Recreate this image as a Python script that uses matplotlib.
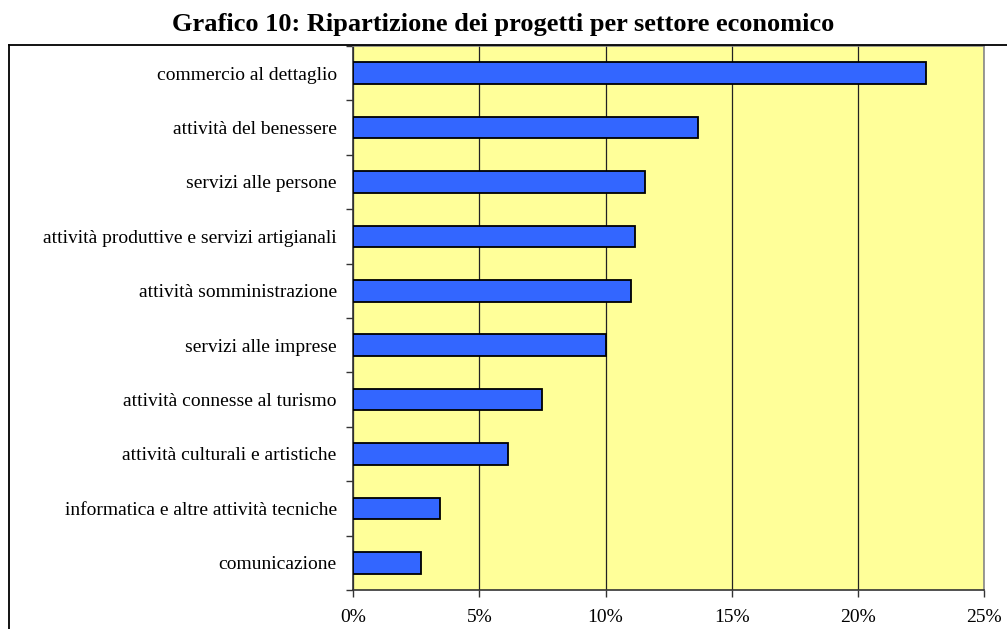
import matplotlib
matplotlib.use("Agg")
import matplotlib.pyplot as plt
from matplotlib.lines import Line2D
from matplotlib.ticker import MultipleLocator, FuncFormatter
import numpy as np

# dati (percentuali)
settori = [
    "commercio al dettaglio",
    "attività del benessere",
    "servizi alle persone",
    "attività produttive e servizi artigianali",
    "attività somministrazione",
    "servizi alle imprese",
    "attività connesse al turismo",
    "attività culturali e artistiche",
    "informatica e altre attività tecniche",
    "comunicazione",
]
quote = [22.7, 13.65, 11.57, 11.16, 11.02, 10.0, 7.5, 6.15, 3.45, 2.7]

plt.rcParams["font.family"] = ["Liberation Serif", "DejaVu Serif"]

fig = plt.figure(figsize=(10.07, 6.29), dpi=100)
ax = fig.add_axes([0.3509, 0.0620, 0.6260, 0.8649])

n = len(settori)
pos = np.arange(n)[::-1]
ax.set_facecolor("#FFFF99")
ax.barh(pos, quote, height=0.4, color="#3366FF", edgecolor="black", linewidth=1.3, zorder=3)

ax.set_xlim(0, 25)
ax.set_ylim(-0.5, n - 0.5)
ax.xaxis.set_major_locator(MultipleLocator(5))
ax.xaxis.set_major_formatter(FuncFormatter(lambda v, p: f"{v:.0f}%"))
ax.grid(axis="x", color="#222222", linewidth=0.9, zorder=1)

# etichette categorie al centro, tick ai confini
ax.set_yticks(pos)
ax.set_yticklabels(settori, fontsize=14)
ax.tick_params(axis="y", which="major", length=0, pad=12)
ax.set_yticks(np.arange(n + 1) - 0.5, minor=True)
ax.tick_params(axis="y", which="minor", length=5, width=1, color="#333333")
ax.tick_params(axis="x", length=5, width=1, color="#333333", labelsize=14, pad=9)

for s in ["left", "bottom"]:
    ax.spines[s].set_color("#333333")
    ax.spines[s].set_linewidth(1.2)
for s in ["top", "right"]:
    ax.spines[s].set_color("#888888")
    ax.spines[s].set_linewidth(1.2)

fig.suptitle("Grafico 10: Ripartizione dei progetti per settore economico",
             x=0.5, y=0.979, fontsize=19, fontweight="bold")

# cornice esterna del grafico
fig.add_artist(Line2D([9 / 1007, 1], [1 - 45 / 629, 1 - 45 / 629], color="black", linewidth=1.3))
fig.add_artist(Line2D([9 / 1007, 9 / 1007], [0, 1 - 45 / 629], color="black", linewidth=1.3))

fig.savefig("out.png", dpi=100)
